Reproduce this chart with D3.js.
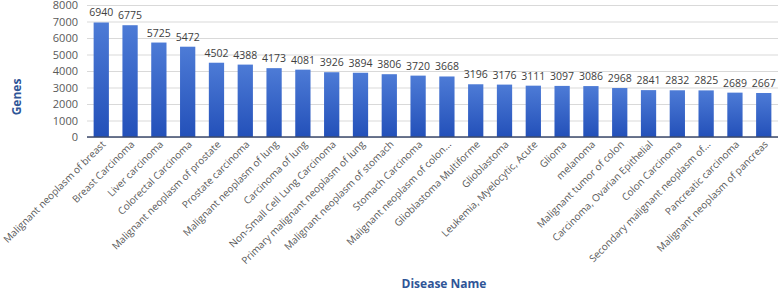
<!DOCTYPE html>
<html>
<head>
<meta charset="utf-8">
<script src="https://cdn.jsdelivr.net/npm/d3@7"></script>
<style>
  body { margin: 0; background: #fff; overflow: hidden; }
  svg { display: block; }
  svg text { font-family: "Open Sans", sans-serif; }
  .grid line { stroke: #d9d9d9; }
  .grid path { display: none; }
</style>
</head>
<body>
<div id="chart"></div>
<script>
const diseases = [
  "Malignant neoplasm of breast", "Breast Carcinoma", "Liver carcinoma", "Colorectal Carcinoma",
  "Malignant neoplasm of prostate", "Prostate carcinoma", "Malignant neoplasm of lung", "Carcinoma of lung",
  "Non-Small Cell Lung Carcinoma", "Primary malignant neoplasm of lung", "Malignant neoplasm of stomach",
  "Stomach Carcinoma", "Malignant neoplasm of colon...", "Glioblastoma Multiforme", "Glioblastoma",
  "Leukemia, Myelocytic, Acute", "Glioma", "melanoma", "Malignant tumor of colon",
  "Carcinoma, Ovarian Epithelial", "Colon Carcinoma", "Secondary malignant neoplasm of...",
  "Pancreatic carcinoma", "Malignant neoplasm of pancreas"
];
const genes = [6940, 6775, 5725, 5472, 4502, 4388, 4173, 4081, 3926, 3894, 3806, 3720, 3668,
  3196, 3176, 3111, 3097, 3086, 2968, 2841, 2832, 2825, 2689, 2667];
const yTicks = [0, 1000, 2000, 3000, 4000, 5000, 6000, 7000, 8000];

const width = 779, height = 290;
const margin = { left: 87, right: 1, top: 5, bottom: 153 };
const innerHeight = height - margin.top - margin.bottom;

const data = diseases.map((d, i) => ({ name: d, value: genes[i] }));

const svg = d3.select("#chart").append("svg")
  .attr("width", width)
  .attr("height", height);

const grad = svg.append("defs").append("linearGradient")
  .attr("id", "barGrad")
  .attr("x1", 0).attr("y1", 0).attr("x2", 0).attr("y2", 1);
grad.append("stop").attr("offset", "0%").attr("stop-color", "#4d7bd6");
grad.append("stop").attr("offset", "100%").attr("stop-color", "#2350b9");

const xScale = d3.scaleBand()
  .domain(diseases)
  .range([margin.left, width - margin.right])
  .paddingInner(0.47)
  .paddingOuter(0.23);

const yScale = d3.scaleLinear()
  .domain([0, 8000])
  .range([margin.top + innerHeight, margin.top]);

// gridlines
svg.append("g")
  .attr("class", "grid")
  .attr("transform", `translate(${margin.left},0)`)
  .call(d3.axisLeft(yScale).tickValues(yTicks).tickSize(-(width - margin.left - margin.right)).tickFormat(""));

// y tick labels
svg.append("g")
  .selectAll("text")
  .data(yTicks)
  .join("text")
    .attr("x", 78)
    .attr("y", d => yScale(d) + 4)
    .attr("text-anchor", "end")
    .attr("font-size", 11)
    .attr("fill", "#595959")
    .text(d => d);

// bars
const bar = svg.selectAll("g.bar")
  .data(data)
  .join("g")
    .attr("class", "bar");

bar.append("rect")
  .attr("x", d => xScale(d.name))
  .attr("y", d => yScale(d.value))
  .attr("width", xScale.bandwidth())
  .attr("height", d => yScale(0) - yScale(d.value))
  .attr("fill", "url(#barGrad)");

bar.append("text")
  .attr("x", d => xScale(d.name) + xScale.bandwidth() / 2)
  .attr("y", d => yScale(d.value) - 6)
  .attr("text-anchor", "middle")
  .attr("font-size", 10.5)
  .attr("fill", "#404040")
  .text(d => d.value);

// x axis line
svg.append("line")
  .attr("x1", margin.left)
  .attr("x2", width - margin.right)
  .attr("y1", yScale(0))
  .attr("y2", yScale(0))
  .attr("stroke", "#3c4a6b")
  .attr("stroke-width", 1.5);

// rotated category labels
svg.append("g")
  .selectAll("text")
  .data(data)
  .join("text")
    .attr("transform", d => `translate(${xScale(d.name) + xScale.bandwidth() / 2 + 5},${yScale(0) + 8}) rotate(-45)`)
    .attr("text-anchor", "end")
    .attr("font-size", 10)
    .attr("fill", "#595959")
    .text(d => d.name);

// axis titles
svg.append("text")
  .attr("transform", "translate(21,97) rotate(-90)")
  .attr("text-anchor", "middle")
  .attr("font-size", 12)
  .attr("font-weight", "bold")
  .attr("fill", "#2f5597")
  .text("Genes");

svg.append("text")
  .attr("x", 444)
  .attr("y", 288)
  .attr("text-anchor", "middle")
  .attr("font-size", 12)
  .attr("font-weight", "bold")
  .attr("fill", "#2f5597")
  .text("Disease Name");
</script>
</body>
</html>
